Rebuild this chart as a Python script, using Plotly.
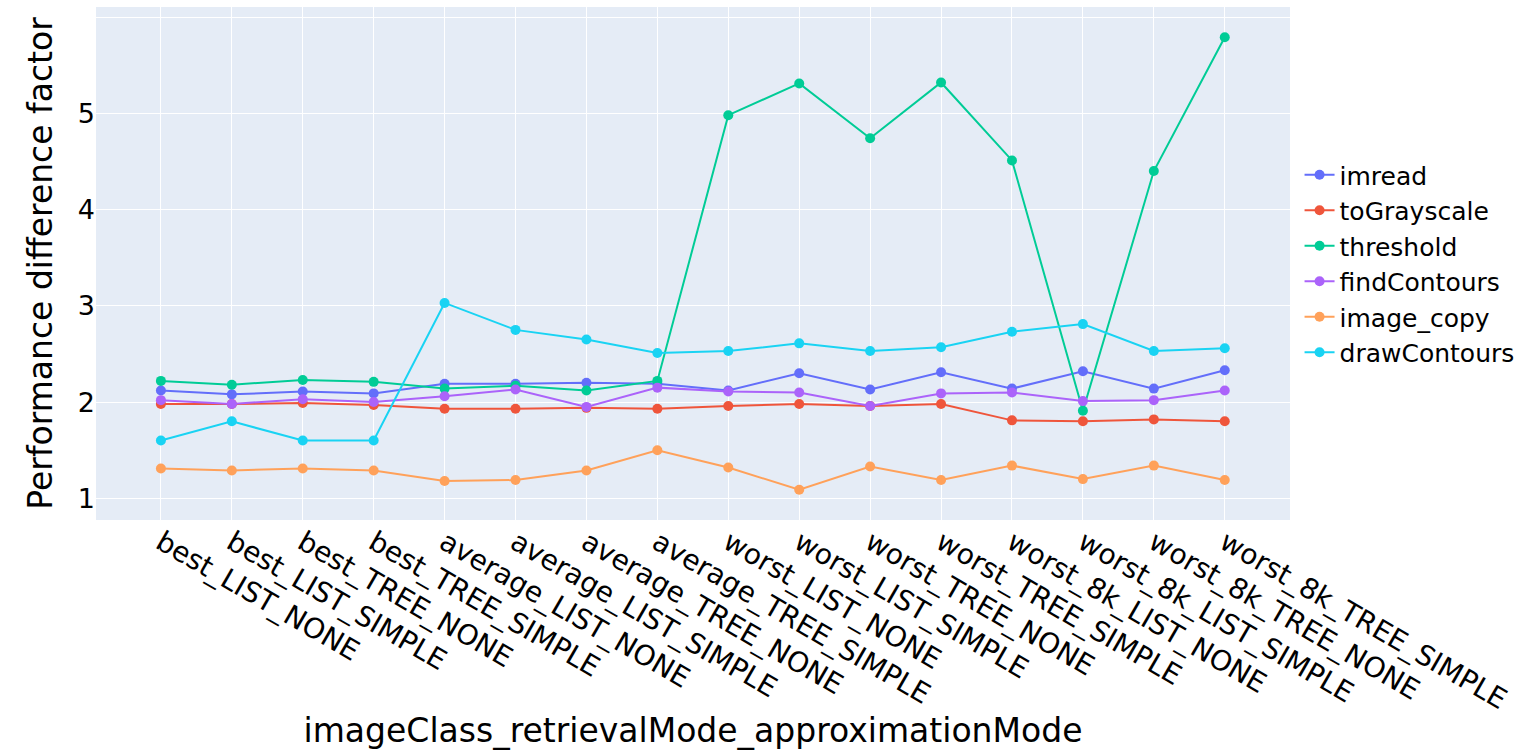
import plotly.graph_objects as go

categories = [
    "best_LIST_NONE", "best_LIST_SIMPLE", "best_TREE_NONE", "best_TREE_SIMPLE",
    "average_LIST_NONE", "average_LIST_SIMPLE", "average_TREE_NONE", "average_TREE_SIMPLE",
    "worst_LIST_NONE", "worst_LIST_SIMPLE", "worst_TREE_NONE", "worst_TREE_SIMPLE",
    "worst_8k_LIST_NONE", "worst_8k_LIST_SIMPLE", "worst_8k_TREE_NONE", "worst_8k_TREE_SIMPLE",
]

imread = [2.12, 2.08, 2.11, 2.09, 2.19, 2.19, 2.20, 2.19,
          2.12, 2.30, 2.13, 2.31, 2.14, 2.32, 2.14, 2.33]
toGrayscale = [1.98, 1.98, 1.99, 1.97, 1.93, 1.93, 1.94, 1.93,
               1.96, 1.98, 1.96, 1.98, 1.81, 1.80, 1.82, 1.80]
threshold = [2.22, 2.18, 2.23, 2.21, 2.14, 2.17, 2.12, 2.22,
             4.98, 5.31, 4.74, 5.32, 4.51, 1.91, 4.40, 5.79]
findContours = [2.02, 1.98, 2.03, 2.00, 2.06, 2.13, 1.95, 2.15,
                2.11, 2.10, 1.96, 2.09, 2.10, 2.01, 2.02, 2.12]
image_copy = [1.31, 1.29, 1.31, 1.29, 1.18, 1.19, 1.29, 1.50,
              1.32, 1.09, 1.33, 1.19, 1.34, 1.20, 1.34, 1.19]
drawContours = [1.60, 1.80, 1.60, 1.60, 3.03, 2.75, 2.65, 2.51,
                2.53, 2.61, 2.53, 2.57, 2.73, 2.81, 2.53, 2.56]

series = [
    ("imread", imread, "#636efa"),
    ("toGrayscale", toGrayscale, "#EF553B"),
    ("threshold", threshold, "#00cc96"),
    ("findContours", findContours, "#ab63fa"),
    ("image_copy", image_copy, "#FFA15A"),
    ("drawContours", drawContours, "#19d3f3"),
]

fig = go.Figure()
for name, values, color in series:
    fig.add_trace(go.Scatter(
        x=categories, y=values, name=name, mode="lines+markers",
        line=dict(color=color, width=2),
        marker=dict(color=color, size=10),
    ))

font_family = "DejaVu Sans, Verdana, sans-serif"

fig.update_layout(
    width=1532, height=750,
    margin=dict(l=96, r=242, t=7, b=230),
    paper_bgcolor="white",
    plot_bgcolor="#E5ECF6",
    font=dict(family=font_family, size=24, color="black"),
    legend=dict(x=1.008, y=0.5, yanchor="middle", xanchor="left",
                font=dict(size=25), itemwidth=30, tracegroupgap=0),
    xaxis=dict(
        title=dict(text="imageClass_retrievalMode_approximationMode",
                   font=dict(size=33)),
        type="category", range=[-0.915, 15.92], tickangle=30,
        gridcolor="white", showline=False, zeroline=False,
        tickfont=dict(size=28), automargin=False,
    ),
    yaxis=dict(
        title=dict(text="Performance difference factor", font=dict(size=33)),
        range=[0.775, 6.104], tickvals=[1, 2, 3, 4, 5],
        gridcolor="white", zeroline=False,
        minor=dict(tickmode="array", tickvals=[6], showgrid=True,
                   gridcolor="white", ticks=""),
        tickfont=dict(size=27), automargin=False,
    ),
)

fig.write_html("out.html")
